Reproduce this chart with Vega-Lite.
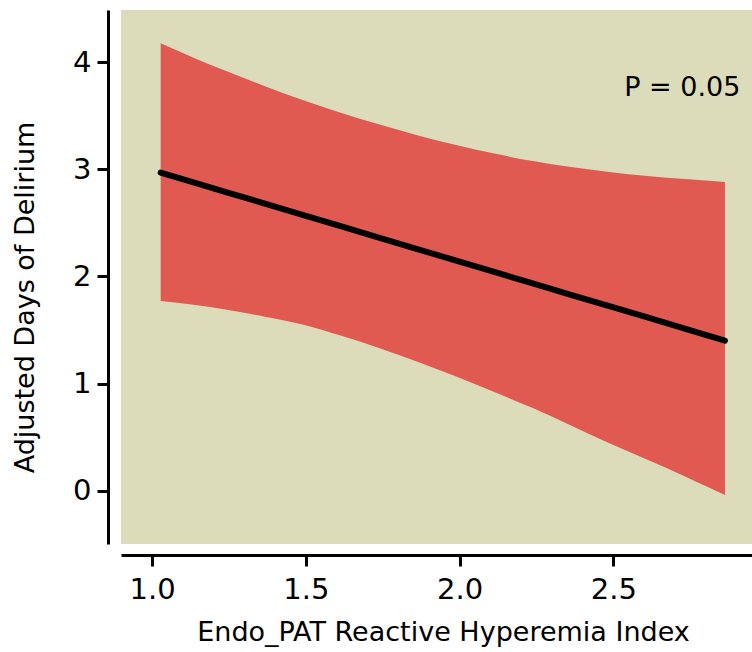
{
  "$schema": "https://vega.github.io/schema/vega-lite/v6.json",
  "width": 631,
  "height": 534,
  "autosize": {"type": "none"},
  "padding": {"left": 121, "top": 10, "right": 0, "bottom": 108},
  "background": "white",
  "config": {
    "view": {"fill": "#dcdcbb", "stroke": null},
    "font": "DejaVu Sans",
    "axis": {
      "grid": false,
      "domainColor": "black",
      "domainWidth": 3,
      "tickColor": "black",
      "tickWidth": 3,
      "tickSize": 11,
      "labelColor": "black",
      "titleColor": "black",
      "labelFont": "DejaVu Sans",
      "titleFont": "DejaVu Sans",
      "titleFontWeight": "normal",
      "labelFontSize": 29,
      "titleFontSize": 27
    }
  },
  "data": {
    "values": [
      {"x": 1.028, "lower": 1.771, "upper": 4.177, "fit": 2.970},
      {"x": 1.135, "lower": 1.735, "upper": 4.043, "fit": 2.879},
      {"x": 1.243, "lower": 1.690, "upper": 3.916, "fit": 2.786},
      {"x": 1.367, "lower": 1.625, "upper": 3.777, "fit": 2.680},
      {"x": 1.492, "lower": 1.550, "upper": 3.645, "fit": 2.573},
      {"x": 1.616, "lower": 1.446, "upper": 3.526, "fit": 2.467},
      {"x": 1.740, "lower": 1.330, "upper": 3.418, "fit": 2.361},
      {"x": 1.865, "lower": 1.202, "upper": 3.317, "fit": 2.254},
      {"x": 1.989, "lower": 1.065, "upper": 3.227, "fit": 2.148},
      {"x": 2.113, "lower": 0.921, "upper": 3.147, "fit": 2.042},
      {"x": 2.238, "lower": 0.771, "upper": 3.078, "fit": 1.935},
      {"x": 2.362, "lower": 0.609, "upper": 3.022, "fit": 1.829},
      {"x": 2.487, "lower": 0.443, "upper": 2.976, "fit": 1.723},
      {"x": 2.611, "lower": 0.288, "upper": 2.938, "fit": 1.617},
      {"x": 2.735, "lower": 0.131, "upper": 2.909, "fit": 1.511},
      {"x": 2.800, "lower": 0.044, "upper": 2.895, "fit": 1.455},
      {"x": 2.863, "lower": -0.040, "upper": 2.882, "fit": 1.401}
    ]
  },
  "layer": [
    {
      "mark": {"type": "area", "color": "#e05a52", "opacity": 1, "interpolate": "monotone"},
      "encoding": {
        "x": {
          "field": "x", "type": "quantitative",
          "scale": {"domain": [0.899, 2.951], "nice": false, "zero": false},
          "axis": {"values": [1.0, 1.5, 2.0, 2.5], "format": ".1f", "offset": 11, "labelPadding": 9, "title": "Endo_PAT Reactive Hyperemia Index", "titlePadding": 15, "titleX": 322}
        },
        "y": {
          "field": "lower", "type": "quantitative",
          "scale": {"domain": [-0.498, 4.488], "nice": false, "zero": false},
          "axis": {"values": [0, 1, 2, 3, 4], "format": "d", "offset": 13, "labelPadding": 6, "title": "Adjusted Days of Delirium", "titlePadding": 33, "titleY": 287}
        },
        "y2": {"field": "upper"}
      }
    },
    {
      "mark": {"type": "line", "color": "black", "strokeWidth": 6, "strokeCap": "round"},
      "encoding": {
        "x": {"field": "x", "type": "quantitative"},
        "y": {"field": "fit", "type": "quantitative"}
      }
    },
    {
      "data": {"values": [{"label": "P = 0.05"}]},
      "mark": {"type": "text", "align": "right", "baseline": "middle", "fontSize": 27, "font": "DejaVu Sans", "fontWeight": "normal", "color": "black"},
      "encoding": {
        "text": {"field": "label"},
        "x": {"datum": 2.913, "type": "quantitative"},
        "y": {"datum": 3.76, "type": "quantitative"}
      }
    }
  ]
}
